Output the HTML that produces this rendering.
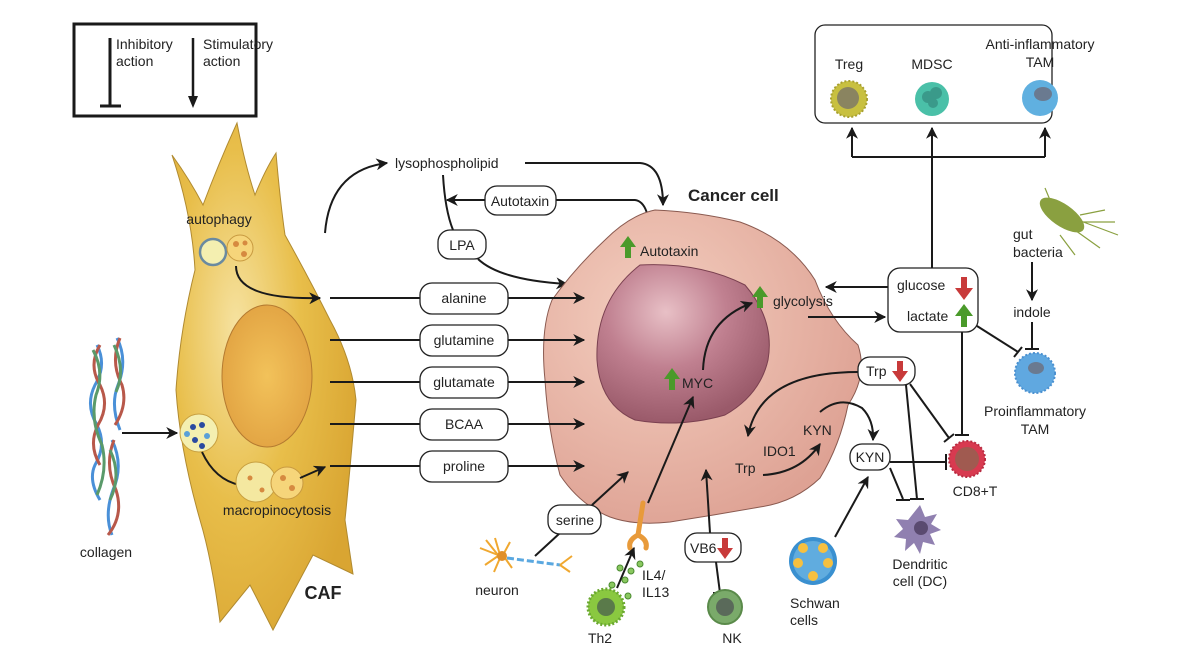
<!DOCTYPE html>
<html><head><meta charset="utf-8"><style>
html,body{margin:0;padding:0;background:#fff}
svg{display:block}
text{font-family:"Liberation Sans",sans-serif;font-size:14px;fill:#222}
.b{fill:#fff;stroke:#222;stroke-width:1.3}
.l{fill:none;stroke:#1a1a1a;stroke-width:2}
</style></head><body>
<svg width="1200" height="656" viewBox="0 0 1200 656" xmlns="http://www.w3.org/2000/svg">
<defs>
<marker id="a" viewBox="0 0 10 10" refX="9" refY="5" markerWidth="12" markerHeight="12" orient="auto-start-reverse" markerUnits="userSpaceOnUse"><path d="M0,0 L10,5 L0,10 L3,5z" fill="#1a1a1a"/></marker>
<radialGradient id="caf" cx="0.35" cy="0.4" r="0.7"><stop offset="0" stop-color="#f6e2a0"/><stop offset="0.5" stop-color="#e8be4a"/><stop offset="1" stop-color="#d9a532"/></radialGradient>
<radialGradient id="cafn" cx="0.5" cy="0.5" r="0.6"><stop offset="0" stop-color="#f2c25a"/><stop offset="1" stop-color="#e0a040"/></radialGradient>
<radialGradient id="cc" cx="0.35" cy="0.35" r="0.7"><stop offset="0" stop-color="#f4cfc0"/><stop offset="1" stop-color="#dea294"/></radialGradient>
<radialGradient id="cn" cx="0.4" cy="0.3" r="0.7"><stop offset="0" stop-color="#e8c0c6"/><stop offset="0.5" stop-color="#c08090"/><stop offset="1" stop-color="#9a5a6a"/></radialGradient>
</defs>

<!-- legend -->
<rect x="74" y="24" width="182" height="92" fill="none" stroke="#1a1a1a" stroke-width="3"/>
<line x1="110" y1="38" x2="110" y2="106" stroke="#1a1a1a" stroke-width="3"/>
<line x1="100" y1="106" x2="121" y2="106" stroke="#1a1a1a" stroke-width="3"/>
<text x="116" y="49">Inhibitory</text><text x="116" y="66">action</text>
<line x1="193" y1="38" x2="193" y2="100" stroke="#1a1a1a" stroke-width="2.5"/>
<path d="M188,96 L193,108 L198,96z" fill="#1a1a1a"/>
<text x="203" y="49">Stimulatory</text><text x="203" y="66">action</text>

<!-- CAF -->
<path d="M172,155 Q190,180 203,205 Q220,160 237,123 Q245,165 255,195 Q265,170 276,153 Q280,200 285,235 Q310,280 330,320 Q352,360 356,400 Q350,470 345,520 L353,574 L313,555 L273,630 L250,585 L220,622 Q212,560 200,520 Q180,450 176,390 Q180,330 195,270 Q192,215 172,155Z" fill="url(#caf)" stroke="#b08a30" stroke-width="1"/>
<ellipse cx="267" cy="376" rx="45" ry="71" fill="url(#cafn)" stroke="#b47a30" stroke-width="1"/>
<text x="219" y="224" text-anchor="middle" fill="#3a2a10">autophagy</text>
<circle cx="213" cy="252" r="13" fill="#f4efb0" stroke="#6a8aa0" stroke-width="2.5"/>
<circle cx="240" cy="248" r="13" fill="#f6d57a" stroke="#c89a40"/>
<circle cx="236" cy="244" r="3" fill="#d68a40"/><circle cx="244" cy="254" r="3" fill="#d68a40"/><circle cx="245" cy="243" r="2.5" fill="#d68a40"/>
<path class="l" d="M236,266 Q236,300 320,298" marker-end="url(#a)"/>
<circle cx="199" cy="433" r="19" fill="#f4efb0" stroke="#c8a040"/>
<circle cx="193" cy="427" r="3" fill="#2a4aa0"/><circle cx="202" cy="425" r="3" fill="#2a4aa0"/><circle cx="207" cy="436" r="3" fill="#5aa0d8"/><circle cx="195" cy="440" r="3" fill="#2a4aa0"/><circle cx="187" cy="434" r="3" fill="#5aa0d8"/><circle cx="202" cy="446" r="3" fill="#2a4aa0"/>
<path class="l" d="M202,452 Q215,480 240,485"/>
<circle cx="256" cy="482" r="20" fill="#f4e8a0" stroke="#c8a040"/>
<circle cx="287" cy="483" r="16" fill="#f6d57a" stroke="#c89a40"/>
<circle cx="283" cy="478" r="3" fill="#d68a40"/><circle cx="292" cy="488" r="3" fill="#d68a40"/><circle cx="250" cy="478" r="2.5" fill="#d68a40"/><circle cx="262" cy="490" r="2.5" fill="#d68a40"/>
<path class="l" d="M300,478 L325,467" marker-end="url(#a)"/>
<text x="277" y="515" text-anchor="middle" fill="#3a2a10">macropinocytosis</text>
<text x="323" y="599" text-anchor="middle" style="font-weight:bold;font-size:18px">CAF</text>

<!-- collagen -->
<g fill="none" stroke-width="3">
<path d="M97,345 Q107,365 95,385 Q85,405 97,425 Q107,445 95,465 Q88,480 100,500" stroke="#4a90d8"/>
<path d="M100,345 Q88,365 100,385 Q110,405 98,425 Q88,445 100,465" stroke="#b8584a"/>
<path d="M93,350 Q105,372 96,395 Q90,420 102,445 Q108,470 97,495" stroke="#5a9a6a"/>
<path d="M117,338 Q128,360 118,385 Q110,405 120,430" stroke="#4a90d8"/>
<path d="M120,338 Q110,362 122,385 Q128,405 115,425" stroke="#b8584a"/>
<path d="M114,345 Q126,370 116,392" stroke="#5a9a6a"/>
<path d="M112,440 Q124,465 113,490 Q104,515 112,535" stroke="#4a90d8"/>
<path d="M114,440 Q104,465 116,490 Q124,515 108,535" stroke="#b8584a"/>
<path d="M110,450 Q122,475 110,500" stroke="#5a9a6a"/>
</g>
<text x="106" y="557" text-anchor="middle">collagen</text>
<path class="l" d="M122,433 L177,433" marker-end="url(#a)"/>

<!-- lysophospholipid -->
<path class="l" d="M325,233 Q330,170 387,163" marker-end="url(#a)"/>
<text x="395" y="168">lysophospholipid</text>
<path class="l" d="M525,163 L640,163 Q663,165 663,205" marker-end="url(#a)"/>
<path class="l" d="M556,200 L635,200 Q650,202 650,240"/>
<rect class="b" x="485" y="186" width="71" height="29" rx="12"/>
<text x="520" y="206" text-anchor="middle">Autotaxin</text>
<path class="l" d="M485,200 L447,200" marker-end="url(#a)"/>
<path class="l" d="M443,175 Q445,210 453,230"/>
<rect class="b" x="438" y="230" width="48" height="29" rx="12"/>
<text x="462" y="250" text-anchor="middle">LPA</text>
<path class="l" d="M478,259 Q500,280 567,284" marker-end="url(#a)"/>

<!-- cancer cell -->
<path d="M655,210 Q700,212 740,222 Q790,240 815,280 Q830,320 858,345 Q868,375 848,405 Q840,445 820,478 Q795,502 760,507 Q715,515 670,522 Q635,526 610,517 Q580,505 560,475 Q548,430 545,380 Q540,330 552,300 Q575,268 605,240 Q630,215 655,210Z" fill="url(#cc)" stroke="#8a5a50" stroke-width="1"/>
<path d="M640,265 Q700,262 745,285 Q775,320 768,360 Q760,395 725,415 Q680,428 635,420 Q600,405 597,360 Q595,300 640,265Z" fill="url(#cn)" stroke="#7a4050" stroke-width="1"/>
<text x="688" y="201" style="font-weight:bold;font-size:17px">Cancer cell</text>
<path d="M625,258 L625,247 L620,247 L628,236 L636,247 L631,247 L631,258z" fill="#4a9a2a"/>
<text x="640" y="256">Autotaxin</text>
<path d="M757,308 L757,297 L752,297 L760,286 L768,297 L763,297 L763,308z" fill="#4a9a2a"/>
<text x="773" y="306">glycolysis</text>
<path d="M669,390 L669,379 L664,379 L672,368 L680,379 L675,379 L675,390z" fill="#4a9a2a"/>
<text x="682" y="388">MYC</text>
<path class="l" d="M703,370 Q705,320 752,303" marker-end="url(#a)"/>
<path class="l" d="M808,317 L885,317" marker-end="url(#a)"/>
<path class="l" d="M888,287 L826,287" marker-end="url(#a)"/>

<!-- amino acid boxes -->
<g>
<line class="l" x1="330" y1="298" x2="420" y2="298"/><line class="l" x1="330" y1="340" x2="420" y2="340"/><line class="l" x1="330" y1="382" x2="420" y2="382"/><line class="l" x1="330" y1="424" x2="420" y2="424"/><line class="l" x1="330" y1="466" x2="420" y2="466"/>
<path class="l" d="M508,298 L584,298" marker-end="url(#a)"/><path class="l" d="M508,340 L584,340" marker-end="url(#a)"/><path class="l" d="M508,382 L584,382" marker-end="url(#a)"/><path class="l" d="M508,424 L584,424" marker-end="url(#a)"/><path class="l" d="M508,466 L584,466" marker-end="url(#a)"/>
<rect class="b" x="420" y="283" width="88" height="31" rx="12"/><text x="464" y="303" text-anchor="middle">alanine</text>
<rect class="b" x="420" y="325" width="88" height="31" rx="12"/><text x="464" y="345" text-anchor="middle">glutamine</text>
<rect class="b" x="420" y="367" width="88" height="31" rx="12"/><text x="464" y="387" text-anchor="middle">glutamate</text>
<rect class="b" x="420" y="409" width="88" height="31" rx="12"/><text x="464" y="429" text-anchor="middle">BCAA</text>
<rect class="b" x="420" y="451" width="88" height="31" rx="12"/><text x="464" y="471" text-anchor="middle">proline</text>
</g>

<!-- bottom -->
<path class="l" d="M592,505 L628,472" marker-end="url(#a)"/>
<line class="l" x1="535" y1="556" x2="560" y2="533"/>
<rect class="b" x="548" y="505" width="53" height="29" rx="12"/><text x="575" y="525" text-anchor="middle">serine</text>
<g stroke="#f0a830" stroke-width="2" fill="none"><path d="M480,548 L498,555 M486,540 L498,555 M495,538 L500,555 M510,542 L503,555 M485,565 L498,556 M494,572 L500,558 M512,568 L505,558"/></g>
<circle cx="502" cy="556" r="5" fill="#e0902a"/>
<path d="M507,558 L560,565" stroke="#5aa8e0" stroke-width="3" stroke-dasharray="7,3"/>
<path d="M560,565 L572,556 M560,565 L570,572" stroke="#f0a830" stroke-width="2"/>
<text x="497" y="595" text-anchor="middle">neuron</text>
<path class="l" d="M648,503 L693,397" marker-end="url(#a)"/>
<path d="M643,503 L638,535 Q628,540 630,548 M638,535 Q648,540 646,548" stroke="#e89a3a" stroke-width="5" fill="none" stroke-linecap="round"/>
<path class="l" d="M617,588 L634,548" marker-end="url(#a)"/>
<g fill="#8ac860" stroke="#4a8a30" stroke-width="1"><circle cx="631" cy="571" r="3"/><circle cx="625" cy="580" r="3"/><circle cx="640" cy="564" r="3"/><circle cx="612" cy="585" r="3"/><circle cx="620" cy="568" r="3"/><circle cx="628" cy="596" r="3"/></g>
<text x="642" y="580">IL4/</text><text x="642" y="597">IL13</text>
<circle cx="606" cy="607" r="18" fill="#8ac840" stroke="#6aa830" stroke-width="3" stroke-dasharray="2,2"/>
<circle cx="606" cy="607" r="9" fill="#5a7a4a"/>
<text x="600" y="643" text-anchor="middle">Th2</text>
<path class="l" d="M710,533 L706,470" marker-end="url(#a)"/>
<rect class="b" x="685" y="533" width="56" height="29" rx="12"/><text x="690" y="553">VB6</text>
<path d="M722,538 L722,548 L717,548 L725,559 L733,548 L728,548 L728,538z" fill="#c83a3a"/>
<line class="l" x1="716" y1="562" x2="720" y2="593"/><line class="l" x1="713" y1="593" x2="727" y2="593"/>
<circle cx="725" cy="607" r="17" fill="#7aaa6a" stroke="#5a8a4a" stroke-width="2"/>
<circle cx="725" cy="607" r="9" fill="#5a6a5a"/>
<text x="732" y="643" text-anchor="middle">NK</text>

<!-- Trp/KYN -->
<text x="735" y="473">Trp</text><text x="763" y="456">IDO1</text><text x="803" y="435">KYN</text>
<path class="l" d="M763,475 Q800,473 820,444" marker-end="url(#a)"/>
<path class="l" d="M858,372 Q760,372 748,436" marker-end="url(#a)"/>
<path class="l" d="M820,412 Q840,395 862,408 Q874,420 873,440" marker-end="url(#a)"/>
<rect class="b" x="858" y="357" width="57" height="28" rx="12"/><text x="866" y="376">Trp</text>
<path d="M897,361 L897,371 L892,371 L900,382 L908,371 L903,371 L903,361z" fill="#c83a3a"/>
<rect class="b" x="850" y="444" width="40" height="26" rx="12"/><text x="870" y="462" text-anchor="middle">KYN</text>
<path class="l" d="M835,537 L868,477" marker-end="url(#a)"/>
<circle cx="813" cy="561" r="24" fill="#3a90d0"/>
<circle cx="813" cy="561" r="20" fill="#60acdf"/>
<g fill="#f6c040"><circle cx="803" cy="548" r="5"/><circle cx="823" cy="548" r="5"/><circle cx="798" cy="563" r="5"/><circle cx="828" cy="563" r="5"/><circle cx="813" cy="576" r="5"/></g>
<text x="790" y="608">Schwan</text><text x="790" y="625">cells</text>
<line class="l" x1="890" y1="462" x2="946" y2="462"/><line class="l" x1="946" y1="454" x2="946" y2="470"/>
<line class="l" x1="890" y1="468" x2="903" y2="499"/><line class="l" x1="896" y1="500" x2="910" y2="500"/>
<line class="l" x1="906" y1="385" x2="917" y2="499"/><line class="l" x1="910" y1="499" x2="924" y2="499"/>
<line class="l" x1="910" y1="384" x2="949" y2="438"/><line class="l" x1="944" y1="442" x2="954" y2="434"/>
<path d="M920,505 l5,12 l12,-3 l-6,10 l10,6 l-11,4 l5,11 l-12,-3 l-3,12 l-6,-11 l-9,8 l1,-12 l-12,-2 l9,-8 l-7,-10 l12,1z" fill="#9080b0"/>
<circle cx="921" cy="528" r="7" fill="#5a4a70"/>
<text x="920" y="569" text-anchor="middle">Dendritic</text><text x="920" y="586" text-anchor="middle">cell (DC)</text>
<circle cx="967" cy="459" r="18" fill="#d83a50" stroke="#b82a40" stroke-width="2" stroke-dasharray="2,2"/>
<circle cx="967" cy="459" r="12" fill="#a05a50"/>
<text x="975" y="496" text-anchor="middle">CD8+T</text>
<line class="l" x1="962" y1="332" x2="962" y2="435"/><line class="l" x1="955" y1="435" x2="969" y2="435"/>

<!-- glucose box -->
<rect class="b" x="888" y="268" width="90" height="64" rx="12"/>
<text x="897" y="290">glucose</text>
<path d="M961,277 L961,288 L955,288 L964,300 L973,288 L967,288 L967,277z" fill="#c83a3a"/>
<text x="907" y="321">lactate</text>
<path d="M961,327 L961,316 L955,316 L964,304 L973,316 L967,316 L967,327z" fill="#4a9a2a"/>
<path class="l" d="M932,268 L932,128" marker-end="url(#a)"/>
<path class="l" d="M852,157 L1045,157"/>
<path class="l" d="M852,157 L852,128" marker-end="url(#a)"/>
<path class="l" d="M1045,157 L1045,128" marker-end="url(#a)"/>
<rect x="815" y="25" width="237" height="98" rx="10" fill="none" stroke="#222" stroke-width="1.3"/>
<text x="849" y="69" text-anchor="middle">Treg</text>
<text x="932" y="69" text-anchor="middle">MDSC</text>
<text x="1040" y="49" text-anchor="middle">Anti-inflammatory</text>
<text x="1040" y="67" text-anchor="middle">TAM</text>
<circle cx="849" cy="99" r="18" fill="#c8c040" stroke="#a8a030" stroke-width="2" stroke-dasharray="2,2"/>
<circle cx="848" cy="98" r="11" fill="#8a8460"/>
<circle cx="932" cy="99" r="17" fill="#4ac0a8"/>
<circle cx="928" cy="97" r="6" fill="#3a9a8a"/><circle cx="936" cy="93" r="6" fill="#3a9a8a"/><circle cx="933" cy="103" r="5" fill="#3a9a8a"/>
<circle cx="1040" cy="98" r="18" fill="#60b0e0"/>
<ellipse cx="1043" cy="94" rx="9" ry="7" fill="#6a7a90"/>

<!-- gut bacteria -->
<g stroke="#8aa040" stroke-width="1.2" fill="none"><path d="M1075,222 L1115,222 M1078,220 L1118,235 M1072,228 L1100,248 M1060,235 L1075,255 M1050,200 L1045,188 M1080,215 L1105,210"/></g>
<ellipse cx="1062" cy="215" rx="26" ry="11" transform="rotate(35 1062 215)" fill="#8aa040"/>
<text x="1013" y="239">gut</text><text x="1013" y="257">bacteria</text>
<path class="l" d="M1032,262 L1032,300" marker-end="url(#a)"/>
<text x="1032" y="317" text-anchor="middle">indole</text>
<line class="l" x1="1032" y1="322" x2="1032" y2="349"/><line class="l" x1="1025" y1="349" x2="1039" y2="349"/>
<line class="l" x1="977" y1="326" x2="1018" y2="352"/><line class="l" x1="1014" y1="357" x2="1022" y2="347"/>
<circle cx="1035" cy="373" r="20" fill="#60a8e0" stroke="#4a90d0" stroke-width="2" stroke-dasharray="2,2"/>
<ellipse cx="1036" cy="368" rx="8" ry="6" fill="#6a7a90"/>
<text x="1035" y="416" text-anchor="middle">Proinflammatory</text>
<text x="1035" y="434" text-anchor="middle">TAM</text>
</svg>
</body></html>
